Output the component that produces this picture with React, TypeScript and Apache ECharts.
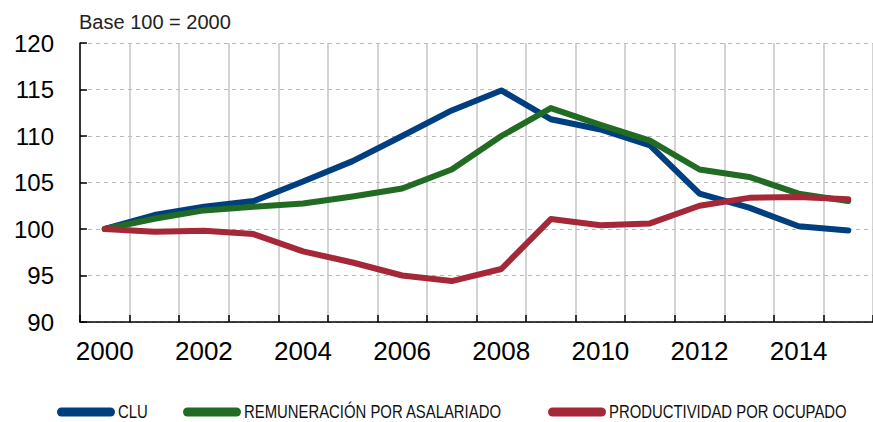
import React, { useEffect, useRef } from "react";
import * as echarts from "echarts";

const years = ["2000","2001","2002","2003","2004","2005","2006","2007","2008","2009","2010","2011","2012","2013","2014","2015"];
const clu = [100, 101.5, 102.4, 103.0, 105.1, 107.3, 110.0, 112.75, 114.9, 111.8, 110.7, 109.0, 103.8, 102.3, 100.3, 99.85];
const remuneracion = [100, 101.1, 102.0, 102.4, 102.75, 103.5, 104.35, 106.4, 110.0, 113.0, 111.2, 109.5, 106.4, 105.6, 103.8, 103.0];
const productividad = [100, 99.7, 99.8, 99.45, 97.6, 96.4, 95.0, 94.4, 95.7, 101.07, 100.4, 100.6, 102.5, 103.35, 103.45, 103.2];
const seriesNames = ["CLU", "REMUNERACIÓN POR ASALARIADO", "PRODUCTIVIDAD POR OCUPADO"];
const colors = ["#003f7f", "#226b22", "#a42838"];
const subtitle = "Base 100 = 2000";
const legendX = [57, 183, 548];

export default function App() {
  const ref = useRef<HTMLDivElement>(null);
  useEffect(() => {
    document.body.style.margin = "0";
    const chart = echarts.init(ref.current!, null, { renderer: "svg" });
    const legendEls: any[] = [];
    seriesNames.forEach((n, i) => {
      legendEls.push({
        type: "rect",
        shape: { x: legendX[i], y: 407.5, width: 58, height: 9, r: 4.5 },
        style: { fill: colors[i] },
      });
      legendEls.push({
        type: "text",
        x: legendX[i] + 61,
        y: 412,
        scaleX: 0.85,
        style: {
          text: n,
          x: 0,
          y: 0,
          fill: "#111",
          font: '17.5px "Liberation Sans", Arial, sans-serif',
          verticalAlign: "middle",
          align: "left",
        },
      });
    });
    chart.setOption({
      animation: false,
      backgroundColor: "#ffffff",
      title: {
        text: subtitle,
        left: 74,
        top: 7,
        textStyle: { fontFamily: "Liberation Sans", fontSize: 20, fontWeight: "normal", color: "#222" },
      },
      graphic: legendEls,
      grid: { left: 80, top: 43, width: 800, height: 279, containLabel: false },
      xAxis: {
        type: "category",
        data: years,
        boundaryGap: true,
        axisLine: { lineStyle: { color: "#000", width: 1.5 } },
        axisTick: { show: true, inside: true, length: 7, interval: 0, lineStyle: { color: "#000", width: 1.5 } },
        axisLabel: { interval: 1, fontFamily: "Liberation Sans", fontSize: 26, color: "#000", margin: 16 },
        splitLine: { show: true, interval: 0, lineStyle: { color: "#c4c4c4", width: 1.5, type: "solid" } },
      },
      yAxis: {
        type: "value",
        min: 90,
        max: 120,
        interval: 5,
        axisLine: { show: true, lineStyle: { color: "#000", width: 1.5 } },
        axisTick: { show: true, inside: true, length: 7, lineStyle: { color: "#000", width: 1.5 } },
        axisLabel: { fontFamily: "Liberation Sans", fontSize: 24, color: "#000", margin: 26 },
        splitLine: { show: true, lineStyle: { color: "#b8b8b8", width: 1.2, type: [4, 4] } },
      },
      series: [clu, remuneracion, productividad].map((d, i) => ({
        name: seriesNames[i],
        type: "line",
        data: d,
        symbol: "none",
        color: colors[i],
        lineStyle: { width: 6, color: colors[i], cap: "round", join: "round" },
      })),
    });
    return () => chart.dispose();
  }, []);
  return <div ref={ref} style={{ width: 873, height: 422 }} />;
}
